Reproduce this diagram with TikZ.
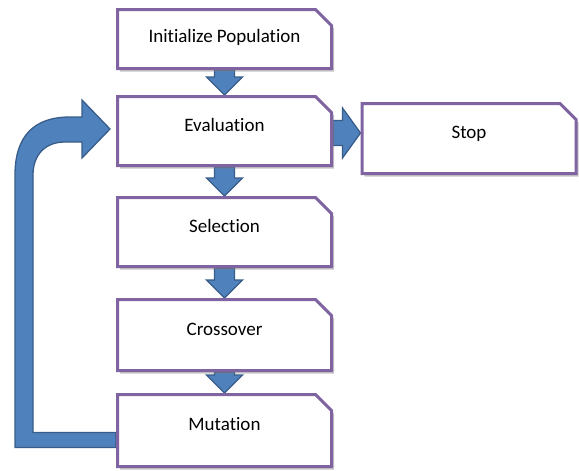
\documentclass[tikz,border=0pt]{standalone}
\usepackage{fontspec}
\setmainfont[Ligatures=NoCommon]{Carlito}
\usetikzlibrary{shapes.misc,shadows,calc,backgrounds}
\definecolor{boxpurple}{HTML}{8064A2}
\definecolor{arrowblue}{HTML}{4F81BD}
\definecolor{arrowedge}{HTML}{385D8A}
\begin{document}
\begin{tikzpicture}[x=1pt,y=-1pt,
  stepbox/.style={chamfered rectangle, chamfered rectangle corners=north east,
    chamfered rectangle xsep=7pt, chamfered rectangle ysep=9pt,
    draw=boxpurple, line width=3pt, fill=white, inner sep=0pt,
    minimum width=214pt, text height=10pt, text depth=10pt,
    font=\fontsize{19}{22}\selectfont,
    drop shadow={shadow xshift=2.5pt, shadow yshift=-3pt, opacity=0.45}},
  blockarrow/.style={fill=arrowblue, draw=arrowedge, line width=1.3pt, line join=miter},
  downarrow/.style={blockarrow, to path={let \p1=(\tikztostart), \p2=(\tikztotarget) in
    (\x1-10pt,\y1) -- (\x1+10pt,\y1) -- (\x1+10pt,\y2+18pt) -- (\x1+18pt,\y2+18pt)
    -- (\x1,\y2) -- (\x1-18pt,\y2+18pt) -- (\x1-10pt,\y2+18pt) -- cycle}},
  rightarrow/.style={blockarrow, to path={let \p1=(\tikztostart), \p2=(\tikztotarget) in
    (\x1,\y1-2pt+12.5pt) -- (\x2-18pt,\y1-2pt+12.5pt) -- (\x2-18pt,\y1-2pt+25pt)
    -- (\x2,\y1-2pt) -- (\x2-18pt,\y1-2pt-25pt) -- (\x2-18pt,\y1-2pt-12.5pt)
    -- (\x1,\y1-2pt-12.5pt) -- cycle}}]
\useasboundingbox (0,0) rectangle (579,471);

\node[stepbox, minimum height=59pt, text depth=4pt] (init) at (224.5,39) {Initialize Population};
\node[stepbox, minimum height=69pt] (eval) at (224.5,131) {Evaluation};
\node[stepbox, minimum height=70pt] (stop) at (469,138.5) {Stop};
\node[stepbox, minimum height=69pt] (sel) at (224.5,232) {Selection};
\node[stepbox, minimum height=71pt] (cross) at (224.5,335) {Crossover};
\node[stepbox, minimum height=72pt] (mut) at (224.5,430.5) {Mutation};

\begin{pgfonlayer}{background}
\draw[downarrow] (init.south) to (eval.north);
\draw[downarrow] (eval.south) to (sel.north);
\draw[downarrow] (sel.south) to (cross.north);
\draw[downarrow] (cross.south) to (mut.north);
\draw[rightarrow] (eval.east) to (stop.west);
\draw[blockarrow]
  ($(mut.west)+(0,17)$) -- ($(mut.west)+(-101,17)$)
  -- ($(eval.west)+(-101,44)$)
  .. controls ($(eval.west)+(-101,4)$) and ($(eval.west)+(-81,-14)$) .. ($(eval.west)+(-46,-14)$)
  -- ($(eval.west)+(-34,-14)$) -- ($(eval.west)+(-34,-31)$)
  -- ($(eval.west)+(-6,-2)$)
  -- ($(eval.west)+(-34,27)$) -- ($(eval.west)+(-34,11)$)
  -- ($(eval.west)+(-51,11)$)
  .. controls ($(eval.west)+(-71,11)$) and ($(eval.west)+(-83,24)$) .. ($(eval.west)+(-83,44)$)
  -- ($(mut.west)+(-83,2)$) -- ($(mut.west)+(0,2)$) -- cycle;
\end{pgfonlayer}
\end{tikzpicture}
\end{document}
